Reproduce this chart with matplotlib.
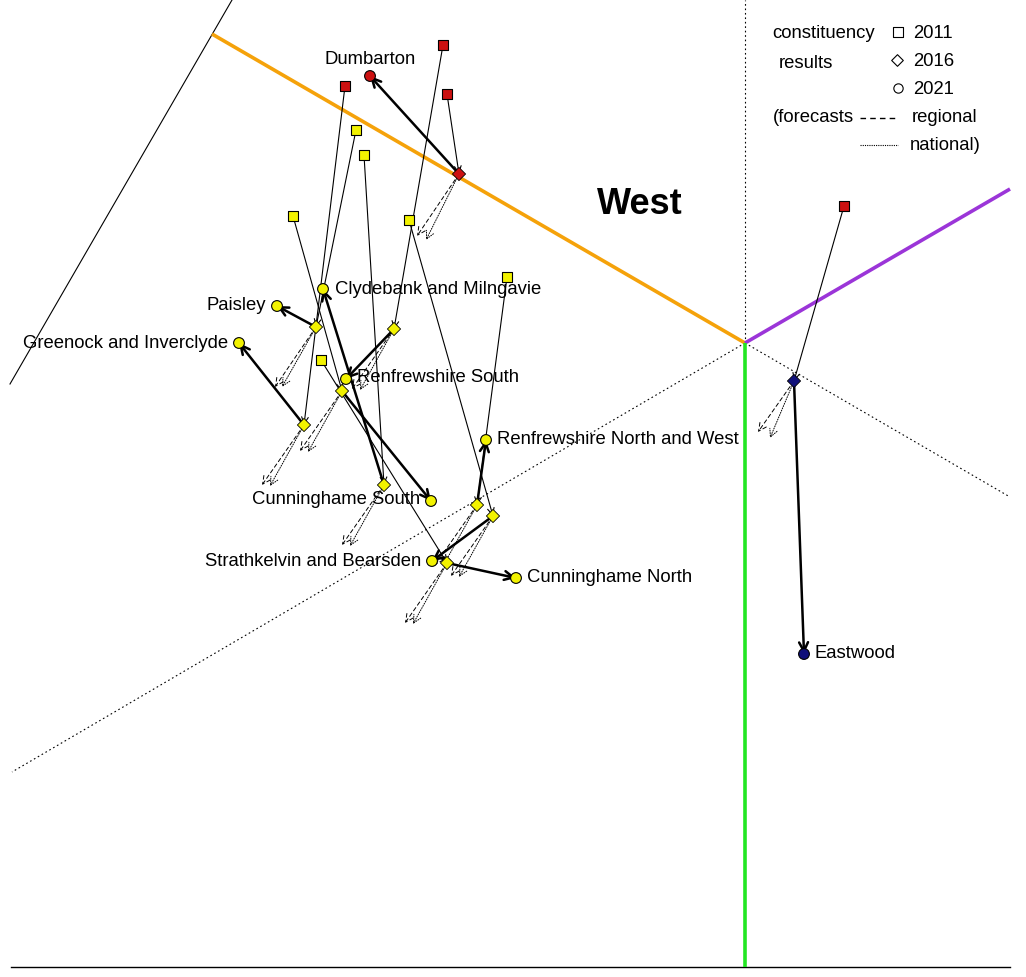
import matplotlib.pyplot as plt

plt.rcParams['font.family'] = ['Liberation Sans', 'DejaVu Sans']

# =====================================================
# DATA (positions in the chart's own plane, y grows down)
# =====================================================

names = [
    'Dumbarton',
    'Clydebank and Milngavie',
    'Paisley',
    'Greenock and Inverclyde',
    'Renfrewshire South',
    'Renfrewshire North and West',
    'Cunninghame South',
    'Strathkelvin and Bearsden',
    'Cunninghame North',
    'Eastwood',
]

x2011 = [447, 364, 356, 345, 443, 507, 293, 409, 321, 844]
y2011 = [94, 155, 130, 86, 45, 277, 216, 220, 360, 206]
party2011 = ['lab', 'snp', 'snp', 'lab', 'lab', 'snp', 'snp', 'snp', 'snp', 'lab']

x2016 = [459, 384, 316, 304, 394, 477, 342, 493, 447, 794]
y2016 = [174, 485, 327, 425, 329, 505, 391, 516, 563, 381]
party2016 = ['lab', 'snp', 'snp', 'snp', 'snp', 'snp', 'snp', 'snp', 'snp', 'con']

x2021 = [370, 323, 277, 239, 346, 486, 431, 432, 516, 804]
y2021 = [76, 289, 306, 343, 379, 440, 501, 561, 578, 654]
party2021 = ['lab', 'snp', 'snp', 'snp', 'snp', 'snp', 'snp', 'snp', 'snp', 'con']

# forecast end points from the 2016 result
x_regional = [417, 342, 275, 262, 352, 435, 300, 451, 405, 758]
y_regional = [236, 545, 387, 485, 389, 565, 451, 576, 623, 432]
x_national = [426, 350, 282, 270, 360, 443, 308, 459, 413, 770]
y_national = [240, 546, 387, 486, 390, 566, 452, 577, 624, 438]

# label anchor (text position and alignment)
label_x = [370, 335, 266, 228, 357, 497, 420, 421, 527, 815]
label_y = [60, 289, 306, 343, 378, 439, 500, 561, 578, 654]
label_ha = ['center', 'left', 'right', 'right', 'left', 'left', 'right', 'right', 'left', 'left']

party_colors = {
    'snp': '#f2f200',
    'lab': '#cc1111',
    'con': '#10107a',
}

# boundary lines of the plot
center = (745, 343)
orange_end = (212, 34)
purple_end = (1010, 189)
green_end = (745, 967)
frame_left = [(10, 384), (232, 0)]
frame_bottom = [(11, 967), (1010, 967)]
dotted_ends = [(745, 0), (12, 772), (1010, 497)]

# =====================================================
# FIGURE
# =====================================================

fig = plt.figure(figsize=(10.26, 9.77), dpi=100)
ax = fig.add_axes([0, 0, 1, 1])
ax.set_xlim(0, 1026)
ax.set_ylim(977, 0)
ax.axis('off')

# frame
ax.plot([p[0] for p in frame_left], [p[1] for p in frame_left], color='black', lw=0.8)
ax.plot([p[0] for p in frame_bottom], [p[1] for p in frame_bottom], color='black', lw=1.0)

for end in dotted_ends:
    ax.plot([center[0], end[0]], [center[1], end[1]], color='black', lw=0.8,
            linestyle=(0, (1.5, 2.5)))

ax.plot([center[0], orange_end[0]], [center[1], orange_end[1]], color='#f5a20a', lw=2.6,
        solid_capstyle='butt')
ax.plot([center[0], purple_end[0]], [center[1], purple_end[1]], color='#9b35d8', lw=2.6,
        solid_capstyle='butt')
ax.plot([center[0], green_end[0]], [center[1], green_end[1]], color='#22e622', lw=2.6,
        solid_capstyle='butt')

ax.text(640, 204, 'West', fontsize=26, fontweight='bold', ha='center', va='center')

# =====================================================
# ARROWS
# =====================================================

for i in range(len(names)):

    # forecasts
    ax.annotate('', xy=(x_regional[i], y_regional[i]), xytext=(x2016[i], y2016[i]),
                arrowprops=dict(arrowstyle='->', lw=0.7, linestyle=(0, (4, 3)),
                                color='black', shrinkA=0, shrinkB=0, mutation_scale=14),
                zorder=2)
    ax.annotate('', xy=(x_national[i], y_national[i]), xytext=(x2016[i], y2016[i]),
                arrowprops=dict(arrowstyle='->', lw=0.7, linestyle=(0, (1, 1.5)),
                                color='black', shrinkA=0, shrinkB=0, mutation_scale=14),
                zorder=2)

    # 2011 -> 2016
    ax.annotate('', xy=(x2016[i], y2016[i]), xytext=(x2011[i], y2011[i]),
                arrowprops=dict(arrowstyle='->', lw=0.8, color='black',
                                shrinkA=0, shrinkB=0, mutation_scale=12),
                zorder=3)

    # 2016 -> 2021
    ax.annotate('', xy=(x2021[i], y2021[i]), xytext=(x2016[i], y2016[i]),
                arrowprops=dict(arrowstyle='->', lw=1.8, color='black',
                                shrinkA=0, shrinkB=0, mutation_scale=16),
                zorder=4)

# =====================================================
# MARKERS
# =====================================================

ax.scatter(x2011, y2011, marker='s', s=55,
           c=[party_colors[p] for p in party2011], edgecolors='black', linewidths=0.8, zorder=5)
ax.scatter(x2016, y2016, marker='D', s=45,
           c=[party_colors[p] for p in party2016], edgecolors='black', linewidths=0.6, zorder=5)
ax.scatter(x2021, y2021, marker='o', s=60,
           c=[party_colors[p] for p in party2021], edgecolors='black', linewidths=0.8, zorder=5)

for i in range(len(names)):
    ax.text(label_x[i], label_y[i], names[i], fontsize=13.3, ha=label_ha[i], va='center', zorder=6)

# =====================================================
# LEGEND
# =====================================================

ax.text(824, 34, 'constituency', fontsize=13.3, ha='center', va='center')
ax.text(806, 63, 'results', fontsize=13.3, ha='center', va='center')
ax.scatter([898], [32], marker='s', s=45, facecolors='white', edgecolors='black', linewidths=0.8)
ax.scatter([897], [60], marker='D', s=35, facecolors='white', edgecolors='black', linewidths=0.8)
ax.scatter([898], [88], marker='o', s=45, facecolors='white', edgecolors='black', linewidths=0.8)
ax.text(913, 34, '2011', fontsize=13.3, va='center')
ax.text(913, 62, '2016', fontsize=13.3, va='center')
ax.text(913, 90, '2021', fontsize=13.3, va='center')
ax.text(773, 118, '(forecasts', fontsize=13.3, va='center')
ax.plot([860, 898], [118, 118], color='black', lw=1.0, linestyle=(0, (4, 3)))
ax.text(912, 118, 'regional', fontsize=13.3, va='center')
ax.plot([860, 898], [145, 145], color='black', lw=0.8, linestyle=(0, (1, 1)))
ax.text(910, 146, 'national)', fontsize=13.3, va='center')

plt.savefig('out.png', dpi=100)
